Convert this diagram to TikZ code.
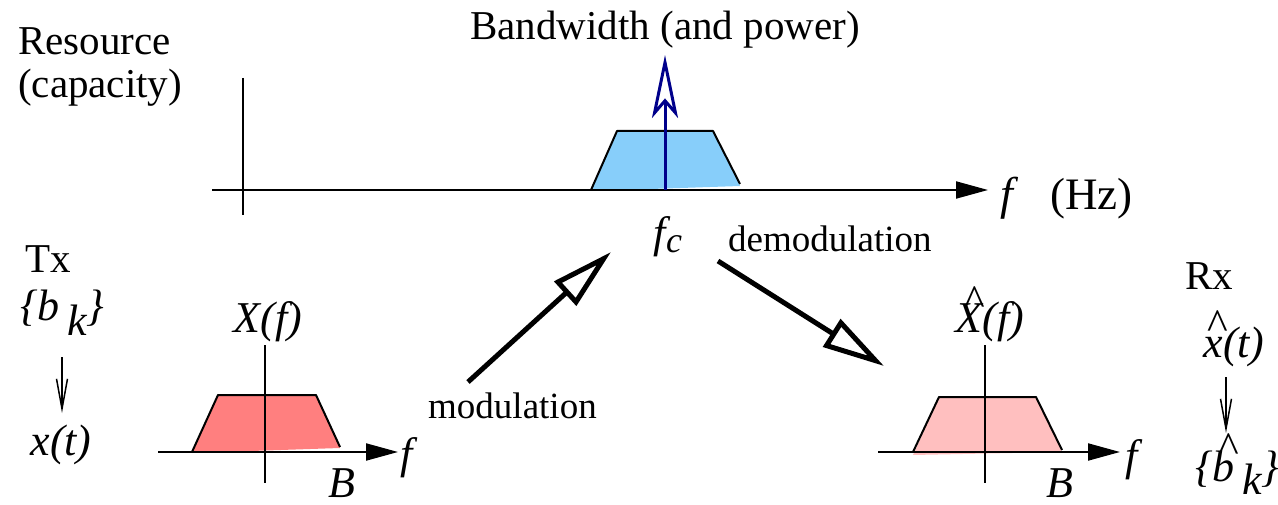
\documentclass[tikz,border=0pt]{standalone}
\usepackage{fontspec}
\setmainfont{Liberation Serif}
\usetikzlibrary{arrows.meta}
\definecolor{skyb}{HTML}{87CEFA}
\definecolor{navyb}{HTML}{00008B}
\definecolor{redf}{HTML}{FF7F7F}
\definecolor{pinkf}{HTML}{FFBFBF}
\newcommand\myhat[3]{\makebox[0pt][l]{\hspace*{#2}\raisebox{#1}{\upshape\textasciicircum}}#3}
\begin{document}
\begin{tikzpicture}[x=1pt,y=-1pt,
  lbl/.style={font=\rmfamily\fontsize{41}{45}\selectfont, inner sep=0pt, anchor=base},
  ilbl/.style={font=\rmfamily\fontsize{44}{48}\selectfont\itshape, inner sep=0pt, anchor=base},
  slbl/.style={font=\rmfamily\fontsize{37}{40}\selectfont, inner sep=0pt, anchor=base west},
  axis/.style={line width=2pt, -{Triangle[length=32pt,width=17pt]}},
  tickl/.style={line width=1.5pt},
  band/.style={line width=2pt, line join=round},
  bigarrow/.style={line width=5pt, -{Triangle[open, length=62pt, width=32pt, line width=5pt]}},
  smallarrow/.style={line width=1.5pt, -{Straight Barb[length=30pt, width=11pt, line width=1.5pt]}},
 ]
\useasboundingbox (0,0) rectangle (1278,505);
% ---------- top spectrum ----------
\coordinate (ta0) at (212,190);
\coordinate (ta1) at (988,190);
\coordinate (tv0) at (243,78);
\coordinate (tv1) at (243,215);
\fill[skyb] (591,191) -- (617,131) -- (713,131) -- (740,186) -- cycle;
\draw[band] (591,190) -- (617,131) -- (713,131) -- (740,184);
\draw[axis] (ta0) -- (ta1);
\draw[tickl] (tv0) -- (tv1);
\coordinate (bw0) at (665,190);
\coordinate (bw1) at (665,55);
\draw[navyb, line width=3pt, -{Stealth[open, length=63pt, width=26pt, inset=15pt, line width=3pt]}] (bw0) -- (bw1);
\node[lbl, anchor=base west] (res) at (18,55) {Resource};
\node[lbl, anchor=base west] (cap) at (18,98) {(capacity)};
\node[lbl] (bw) at (665,40) {Bandwidth (and power)};
\node[ilbl, anchor=base west, font=\rmfamily\fontsize{46}{50}\selectfont\itshape] (fhz) at (1000,210) {f};
\node[lbl, anchor=base west, font=\rmfamily\fontsize{45}{50}\selectfont] (hz) at (1050,210) {(Hz)};
\node[ilbl] (fc) at (668,248) {f\raisebox{-0.1em}{\fontsize{36}{36}\selectfont c}};
\node[slbl] (demod) at (728,252) {demodulation};
\node[slbl] (mod) at (428,418) {modulation};
% ---------- modulation arrows ----------
\coordinate (m0) at (468,382);
\coordinate (m1) at (611,252);
\draw[bigarrow] (m0) -- (m1);
\coordinate (d0) at (718,261);
\coordinate (d1) at (884,366);
\draw[bigarrow] (d0) -- (d1);
% ---------- left baseband ----------
\fill[redf] (192,453) -- (218,395) -- (316,395) -- (340,448) -- cycle;
\draw[band] (192,452) -- (218,395) -- (316,395) -- (340,447);
\coordinate (la0) at (158,452);
\coordinate (la1) at (398,452);
\coordinate (lv0) at (265,345);
\coordinate (lv1) at (265,483);
\draw[axis] (la0) -- (la1);
\draw[tickl] (lv0) -- (lv1);
\node[ilbl] (Xf) at (268,332) {X(f)};
\node[ilbl, anchor=base west] (lf) at (400,468) {f};
\node[ilbl] (lB) at (342,497) {B};
% ---------- right baseband ----------
\fill[pinkf] (913,455) -- (939,397) -- (1036,397) -- (1062,452) -- cycle;
\draw[band] (913,452) -- (939,397) -- (1036,397) -- (1062,450);
\coordinate (ra0) at (878,452);
\coordinate (ra1) at (1120,452);
\coordinate (rv0) at (985,345);
\coordinate (rv1) at (985,483);
\draw[axis] (ra0) -- (ra1);
\draw[tickl] (rv0) -- (rv1);
\node[ilbl] (Xhf) at (990,332) {\myhat{0.38em}{0.2em}{X}(f)};
\node[ilbl, anchor=base west] (rf) at (1125,470) {f};
\node[ilbl] (rB) at (1060,497) {B};
% ---------- Tx ----------
\node[lbl] (tx) at (48,273) {Tx};
\node[ilbl, anchor=base west] (bk) at (20,320) {\{b\,\raisebox{-0.35em}{k}\}};
\node[ilbl] (xt) at (61,455) {x(t)};
\coordinate (ta) at (62,357);
\coordinate (tb) at (62,413);
\draw[smallarrow] (ta) -- (tb);
% ---------- Rx ----------
\node[lbl] (rx) at (1209,290) {Rx};
\node[ilbl] (xht) at (1234,357) {\myhat{0.4em}{0.08em}{x}(t)};
\node[ilbl, anchor=base west] (bhk) at (1195,481) {\{\myhat{0.42em}{0.12em}{b}\,\raisebox{-0.3em}{k}\}};
\coordinate (rxa) at (1226,377);
\coordinate (rxb) at (1226,433);
\draw[smallarrow] (rxa) -- (rxb);
\end{tikzpicture}
\end{document}
